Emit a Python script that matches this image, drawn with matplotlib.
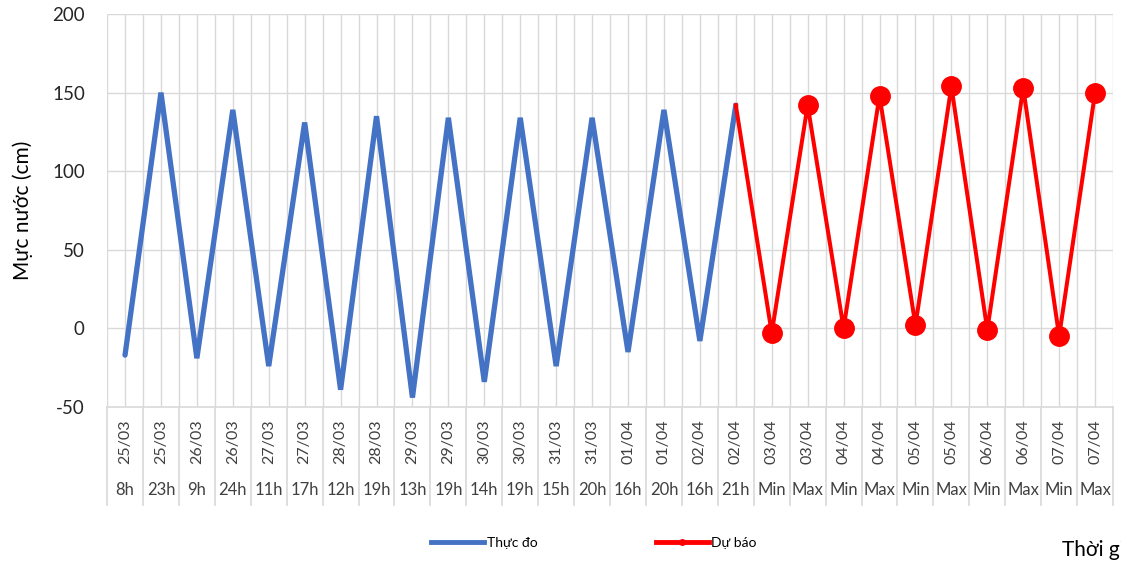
import matplotlib
matplotlib.use("Agg")
import matplotlib.pyplot as plt
from matplotlib.lines import Line2D

plt.rcParams["font.family"] = ["Lato", "DejaVu Sans"]
plt.rcParams["axes.unicode_minus"] = False

dates = ["25/03", "25/03", "26/03", "26/03", "27/03", "27/03", "28/03", "28/03",
         "29/03", "29/03", "30/03", "30/03", "31/03", "31/03", "01/04", "01/04",
         "02/04", "02/04", "03/04", "03/04", "04/04", "04/04", "05/04", "05/04",
         "06/04", "06/04", "07/04", "07/04"]
hours = ["8h", "23h", "9h", "24h", "11h", "17h", "12h", "19h", "13h", "19h",
         "14h", "19h", "15h", "20h", "16h", "20h", "16h", "21h",
         "Min", "Max", "Min", "Max", "Min", "Max", "Min", "Max", "Min", "Max"]

# measured (indices 0..17)
thuc_do = [-17, 150, -19, 139, -24, 131, -39, 135, -44, 134, -34, 134,
           -24, 134, -15, 139, -8, 142]
# forecast (indices 17..27), first point joins the measured line
du_bao = [142, -3, 142, 0, 148, 2, 154, -1, 153, -5, 150]

x_obs = list(range(len(thuc_do)))
x_fc = list(range(len(thuc_do) - 1, len(thuc_do) - 1 + len(du_bao)))

fig = plt.figure(figsize=(11.21, 5.67), dpi=100)
ax = fig.add_axes([0.0955, 0.2822, 0.8974, 0.6931])

n = len(dates)
ax.set_xlim(-0.5, n - 0.5)
ax.set_ylim(-50, 200)
ax.set_yticks([-50, 0, 50, 100, 150, 200])

grid_c = "#d9d9d9"
for k in range(n):
    ax.axvline(k - 0.5, color=grid_c, lw=1, zorder=0)
    ax.axvline(k, color=grid_c, lw=1, zorder=0)
ax.axvline(n - 0.5, color=grid_c, lw=1, zorder=0)
for yv in [0, 50, 100, 150, 200]:
    ax.axhline(yv, color=grid_c, lw=1, zorder=0)

ax.plot(x_obs, thuc_do, color="#4472c4", lw=3.8, solid_capstyle="round",
        solid_joinstyle="miter", zorder=3)
ax.plot(x_fc, du_bao, color="#ff0000", lw=2.9, marker="o", markersize=14,
        markevery=list(range(1, len(du_bao))), zorder=4)

for s in ["top", "right", "left"]:
    ax.spines[s].set_visible(False)
ax.spines["bottom"].set_color(grid_c)
ax.spines["bottom"].set_linewidth(1.2)
ax.tick_params(axis="y", length=0, labelsize=13.5, labelcolor="#262626", pad=16)
ax.set_xticks([])

ax.set_ylabel("Mực nước (cm)", fontsize=15, color="#000000", labelpad=14)

# two-level category axis
tr = ax.get_xaxis_transform()
for k in range(n + 1):
    ax.plot([k - 0.5, k - 0.5], [0, -0.25], transform=tr, color=grid_c,
            lw=1.2, clip_on=False)
for k in range(n):
    ax.text(k, -0.089, dates[k], transform=tr, rotation=90, ha="center",
            va="center", fontsize=11.5, color="#404040")
    ax.text(k, -0.21, hours[k], transform=tr, ha="center", va="center",
            fontsize=12, color="#404040")

handles = [
    Line2D([], [], color="#4472c4", lw=3.5),
    Line2D([], [], color="#ff0000", lw=3.5, marker="o", markersize=4),
]
fig.legend(handles, ["Thực đo", "Dự báo"], loc="center",
           bbox_to_anchor=(0.53, 0.042), ncol=2, frameon=False, fontsize=10,
           handlelength=3.8, handletextpad=0.2, columnspacing=8.5)

fig.text(1062 / 1121, 1 - 550 / 567, "Thời gian", fontsize=15, va="center",
         ha="left")

fig.savefig("out.png", dpi=100)
